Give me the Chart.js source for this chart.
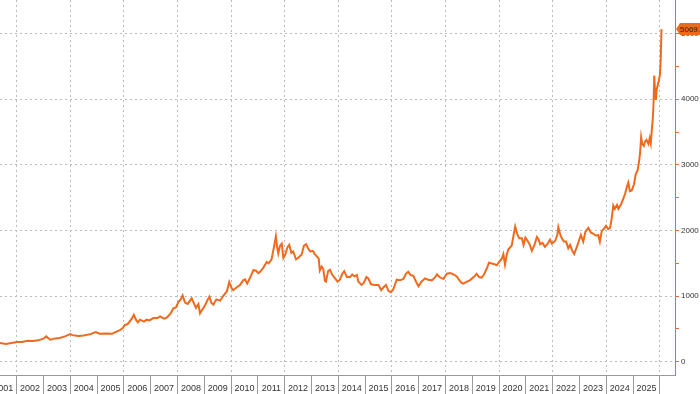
<!DOCTYPE html>
<html>
<head>
<meta charset="utf-8">
<script src="https://cdn.jsdelivr.net/npm/chart.js@4"></script>
<style>
  html, body { margin: 0; padding: 0; background: #fff; }
  #wrap { width: 700px; height: 394px; position: relative; }
</style>
</head>
<body>
<div id="wrap"><canvas id="c" width="700" height="394"></canvas></div>
<script>
// decimal year of each reading
const years = [
  2001.37, 2001.6, 2001.8, 2002.0, 2002.2, 2002.4, 2002.6, 2002.8, 2003.0, 2003.1,
  2003.25, 2003.45, 2003.6, 2003.8, 2004.0, 2004.08, 2004.3, 2004.5, 2004.75, 2004.95,
  2005.1, 2005.35, 2005.55, 2005.7, 2005.85, 2005.95, 2006.04, 2006.15, 2006.3, 2006.37,
  2006.45, 2006.52, 2006.6, 2006.75, 2006.85, 2006.95, 2007.1, 2007.25, 2007.35, 2007.5,
  2007.6, 2007.75, 2007.84, 2007.95, 2008.03, 2008.12, 2008.19, 2008.28, 2008.38, 2008.53,
  2008.6, 2008.69, 2008.78, 2008.84, 2008.92, 2009.03, 2009.12, 2009.19, 2009.26, 2009.34,
  2009.45, 2009.59, 2009.7, 2009.84, 2009.93, 2010.02, 2010.08, 2010.2, 2010.33, 2010.45,
  2010.52, 2010.6, 2010.72, 2010.83, 2010.92, 2011.02, 2011.08, 2011.2, 2011.33, 2011.4,
  2011.51, 2011.6, 2011.67, 2011.72, 2011.76, 2011.82, 2011.89, 2011.95, 2012.01, 2012.1,
  2012.17, 2012.25, 2012.32, 2012.42, 2012.5, 2012.57, 2012.63, 2012.72, 2012.8, 2012.88,
  2012.95, 2013.05, 2013.12, 2013.19, 2013.27, 2013.31, 2013.38, 2013.44, 2013.5, 2013.54,
  2013.62, 2013.69, 2013.78, 2013.88, 2013.97, 2014.06, 2014.15, 2014.22, 2014.32, 2014.44,
  2014.52, 2014.6, 2014.69, 2014.75, 2014.87, 2014.95, 2015.05, 2015.12, 2015.22, 2015.37,
  2015.5, 2015.6, 2015.68, 2015.78, 2015.87, 2015.96, 2016.05, 2016.18, 2016.3, 2016.43,
  2016.52, 2016.61, 2016.7, 2016.8, 2016.9, 2016.99, 2017.1, 2017.24, 2017.35, 2017.49,
  2017.6, 2017.68, 2017.78, 2017.92, 2018.05, 2018.17, 2018.3, 2018.42, 2018.5, 2018.6,
  2018.66, 2018.8, 2018.91, 2019.05, 2019.16, 2019.25, 2019.35, 2019.45, 2019.54, 2019.62,
  2019.7, 2019.8, 2019.91, 2020.0, 2020.1, 2020.16, 2020.22, 2020.28, 2020.34, 2020.47,
  2020.55, 2020.6, 2020.68, 2020.75, 2020.85, 2020.91, 2020.98, 2021.05, 2021.15, 2021.22,
  2021.32, 2021.41, 2021.48, 2021.53, 2021.62, 2021.71, 2021.8, 2021.9, 2021.97, 2022.09,
  2022.17, 2022.21, 2022.28, 2022.34, 2022.42, 2022.5, 2022.58, 2022.65, 2022.72, 2022.8,
  2022.9, 2022.96, 2023.05, 2023.14, 2023.22, 2023.33, 2023.42, 2023.52, 2023.62, 2023.7,
  2023.76, 2023.83, 2023.92, 2023.99, 2024.07, 2024.14, 2024.2, 2024.26, 2024.32, 2024.4,
  2024.45, 2024.55, 2024.63, 2024.7, 2024.78, 2024.82, 2024.88, 2024.95, 2025.03, 2025.1,
  2025.17, 2025.22, 2025.26, 2025.3, 2025.34, 2025.4, 2025.44, 2025.5, 2025.57, 2025.62,
  2025.66, 2025.7, 2025.73, 2025.76, 2025.79, 2025.82, 2025.85, 2025.88, 2025.94, 2026.0,
  2026.03, 2026.06
];
// price readings
const prices = [
  285, 270, 285, 300, 300, 320, 315, 325, 350, 385,
  335, 355, 360, 385, 420, 405, 390, 400, 420, 450,
  425, 430, 425, 455, 480, 510, 560, 575, 660, 715,
  640, 600, 640, 610, 640, 630, 665, 665, 690, 655,
  670, 740, 810, 830, 910, 950, 1010, 900, 880, 965,
  900, 820, 880, 735, 790, 860, 940, 990, 900, 870,
  950, 930, 1000, 1070, 1215, 1120, 1090, 1130, 1170, 1240,
  1255, 1190, 1290, 1395, 1390, 1350, 1370, 1430, 1520, 1500,
  1560, 1750, 1910, 1740, 1650, 1760, 1800, 1580, 1620, 1740,
  1780, 1660, 1680, 1560, 1580, 1610, 1630, 1770, 1790, 1720,
  1680, 1690, 1640, 1610, 1570, 1390, 1450, 1410, 1230, 1220,
  1380, 1400, 1320, 1270, 1220, 1250, 1340, 1380, 1290, 1290,
  1330, 1300, 1320, 1220, 1170, 1200, 1290, 1270, 1180, 1170,
  1170, 1090, 1130, 1170, 1080, 1060, 1100, 1250, 1240, 1260,
  1340, 1370, 1320, 1310, 1220, 1150, 1220, 1270, 1250, 1240,
  1280, 1330, 1290, 1260, 1340, 1350, 1330, 1300, 1250, 1200,
  1190, 1220, 1240, 1290, 1340, 1290, 1280, 1340, 1420, 1510,
  1500, 1490, 1470, 1520, 1570, 1640, 1480, 1620, 1710, 1770,
  1950, 2060, 1940, 1880, 1880, 1780, 1890, 1850, 1780, 1690,
  1780, 1900, 1860, 1790, 1810, 1750, 1790, 1860, 1800, 1840,
  1930, 2050, 1940, 1880, 1830, 1830, 1730, 1780, 1700, 1640,
  1750, 1820, 1930, 1830, 1980, 2040, 1970, 1950, 1920, 1930,
  1830, 1990, 2030, 2070, 2020, 2040, 2180, 2380, 2330, 2390,
  2330, 2400, 2480, 2560, 2680, 2730, 2600, 2610, 2700, 2860,
  2920, 3050, 3180, 3420, 3320, 3290, 3350, 3380, 3320, 3410,
  3330, 3540, 3680, 3900, 4360, 4100, 3990, 4150, 4250, 4370,
  4600, 5069.2
];
const yearLabels = [2001,2002,2003,2004,2005,2006,2007,2008,2009,2010,2011,2012,2013,
  2014,2015,2016,2017,2018,2019,2020,2021,2022,2023,2024,2025];
const yearBoundaries = [2002,2003,2004,2005,2006,2007,2008,2009,2010,2011,2012,2013,2014,
  2015,2016,2017,2018,2019,2020,2021,2022,2023,2024,2025,2026];
const gridYears = [2002,2004,2006,2008,2010,2012,2014,2016,2018,2020,2022,2024,2026];
const yTickValues = [0,500,1000,1500,2000,2500,3000,3500,4000,4500,5000];
const yLabelValues = [0,1000,2000,3000,4000,5000];
const lastValueText = '5069.2';

const ORANGE = '#f06a1e';
const GRID = '#bcbcbc';
const X_MIN = 2001.377, X_MAX = 2026.563;

const points = years.map((x, i) => ({ x: x, y: prices[i] }));

const lastLabelPlugin = {
  id: 'lastLabel',
  afterDraw(chart) {
    const ctx = chart.ctx;
    const ys = chart.scales.y;
    const y = ys.getPixelForValue(prices[prices.length - 1]);
    const x0 = chart.chartArea.right;
    ctx.save();
    ctx.fillStyle = '#ec6a1f';
    ctx.beginPath();
    ctx.moveTo(x0 + 1, y);
    ctx.lineTo(x0 + 5, y - 6);
    ctx.lineTo(700, y - 6);
    ctx.lineTo(700, y + 6);
    ctx.lineTo(x0 + 5, y + 6);
    ctx.closePath();
    ctx.fill();
    ctx.fillStyle = '#3a1500';
    ctx.font = '8px "Liberation Sans", Arial, sans-serif';
    ctx.textBaseline = 'middle';
    ctx.textAlign = 'left';
    ctx.fillText(lastValueText, x0 + 5, y + 0.5);
    ctx.restore();
  }
};

new Chart(document.getElementById('c'), {
  type: 'line',
  data: {
    datasets: [{
      xAxisID: 'x',
      yAxisID: 'y',
      data: points,
      borderColor: ORANGE,
      borderWidth: 2,
      pointRadius: 0,
      tension: 0,
      fill: false
    }]
  },
  options: {
    responsive: false,
    animation: false,
    layout: { padding: 0 },
    plugins: { legend: { display: false }, tooltip: { enabled: false } },
    scales: {
      x: {
        type: 'linear',
        position: 'bottom',
        min: X_MIN,
        max: X_MAX,
        afterBuildTicks(scale) {
          const t = [];
          yearLabels.forEach(yv => t.push({ value: yv + 0.5 }));
          yearBoundaries.forEach(yv => t.push({ value: yv }));
          t.sort((a, b) => a.value - b.value);
          scale.ticks = t;
        },
        afterFit(scale) {
          scale.height = 19;
          scale.paddingLeft = 0;
          scale.paddingRight = 0;
        },
        ticks: {
          autoSkip: false,
          maxRotation: 0,
          minRotation: 0,
          padding: -11,
          color: '#333',
          font: { family: '"Liberation Sans", Arial, sans-serif', size: 9 },
          callback(v) { return Number.isInteger(v) ? '' : String(Math.floor(v)); }
        },
        grid: {
          drawOnChartArea: false,
          lineWidth: 1,
          tickLength: 19,
          tickColor(ctx) {
            const v = ctx.tick ? ctx.tick.value : NaN;
            return Number.isInteger(v) ? '#9a9a9a' : 'rgba(0,0,0,0)';
          }
        },
        border: { display: true, color: '#9a9a9a', width: 1 }
      },
      xg: {
        type: 'linear',
        position: 'bottom',
        min: X_MIN,
        max: X_MAX,
        afterBuildTicks(scale) {
          scale.ticks = gridYears.map(v => ({ value: v }));
        },
        afterFit(scale) {
          scale.height = 0;
          scale.paddingLeft = 0;
          scale.paddingRight = 0;
        },
        ticks: { display: false, autoSkip: false },
        grid: {
          drawOnChartArea: true,
          drawTicks: false,
          color: GRID,
          lineWidth: 1
        },
        border: { display: false, dash: [2, 3] }
      },
      y: {
        type: 'linear',
        position: 'right',
        min: -203,
        max: 5513,
        afterBuildTicks(scale) {
          scale.ticks = yTickValues.map(v => ({ value: v }));
        },
        afterFit(scale) {
          scale.width = 25;
          scale.paddingTop = 0;
          scale.paddingBottom = 0;
        },
        ticks: {
          autoSkip: false,
          padding: 2,
          color: '#333',
          font: { family: '"Liberation Sans", Arial, sans-serif', size: 8 },
          callback(v) { return yLabelValues.includes(v) ? String(v) : ''; }
        },
        grid: {
          color(ctx) {
            const v = ctx.tick ? ctx.tick.value : NaN;
            return yLabelValues.includes(v) ? GRID : 'rgba(0,0,0,0)';
          },
          lineWidth: 1,
          tickLength: 4,
          tickColor: ORANGE
        },
        border: { display: true, color: ORANGE, width: 1, dash: [2, 3] }
      }
    }
  },
  plugins: [lastLabelPlugin]
});
</script>
</body>
</html>
